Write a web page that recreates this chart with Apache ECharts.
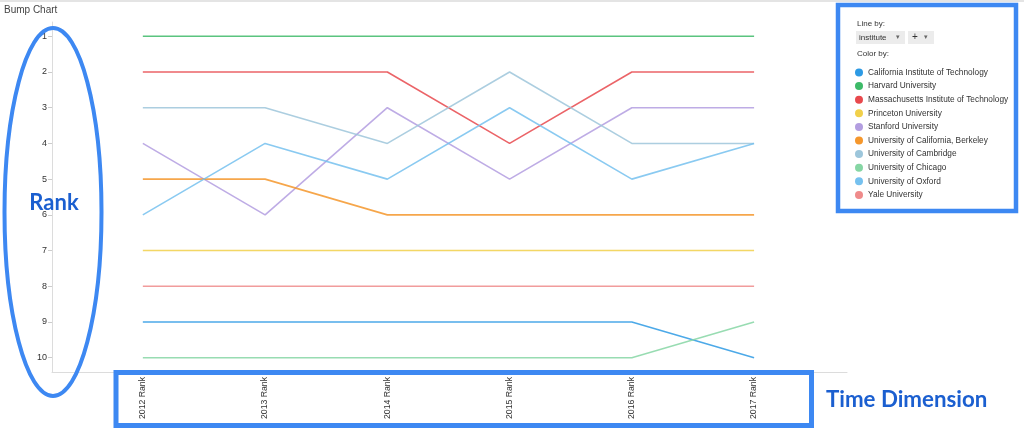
<!DOCTYPE html>
<html>
<head>
<meta charset="utf-8">
<script src="https://cdn.jsdelivr.net/npm/echarts@6/dist/echarts.min.js"></script>
<style>
  html, body { margin: 0; padding: 0; background: #fff; }
  #chart { width: 1024px; height: 433px; }
</style>
</head>
<body>
<div id="chart"></div>
<script>
// years on the x axis
const categories = ['2012 Rank', '2013 Rank', '2014 Rank', '2015 Rank', '2016 Rank', '2017 Rank'];
const rankTicks = [1, 2, 3, 4, 5, 6, 7, 8, 9, 10];

const institutes = [
  'California Institute of Technology',
  'Harvard University',
  'Massachusetts Institute of Technology',
  'Princeton University',
  'Stanford University',
  'University of California, Berkeley',
  'University of Cambridge',
  'University of Chicago',
  'University of Oxford',
  'Yale University'
];

// rank per year, same order as categories
const caltech   = [9, 9, 9, 9, 9, 10];
const harvard   = [1, 1, 1, 1, 1, 1];
const mit       = [2, 2, 2, 4, 2, 2];
const princeton = [7, 7, 7, 7, 7, 7];
const stanford  = [4, 6, 3, 5, 3, 3];
const berkeley  = [5, 5, 6, 6, 6, 6];
const cambridge = [3, 3, 4, 2, 4, 4];
const chicago   = [10, 10, 10, 10, 10, 9];
const oxford    = [6, 4, 5, 3, 5, 4];
const yale      = [8, 8, 8, 8, 8, 8];

const ranks = [caltech, harvard, mit, princeton, stanford, berkeley, cambridge, chicago, oxford, yale];
const colors = ['#2d9ae4', '#3dba68', '#e8494d', '#f1d04a', '#b39ee0', '#f5972c', '#9dc6db', '#86d6a4', '#76c1ef', '#ef8b8b'];

const chart = echarts.init(document.getElementById('chart'));

const blue = '#3d88f2';
const blueText = '#1b5fd0';

const option = {
  animation: false,
  color: colors,
  grid: { left: 52, right: 177, top: 22, bottom: 61 },
  xAxis: {
    type: 'value',
    min: -0.743,
    max: 5.76,
    splitLine: { show: false },
    axisLine: { onZero: false, lineStyle: { color: '#dcdcdc' } },
    axisTick: { customValues: [0, 1, 2, 3, 4, 5], length: 3, lineStyle: { color: '#ccc' } },
    axisLabel: {
      customValues: [0, 1, 2, 3, 4, 5],
      rotate: 90,
      fontSize: 8.7,
      color: '#333',
      fontFamily: 'Liberation Sans',
      margin: 5,
      formatter: v => categories[Math.round(v)]
    }
  },
  yAxis: {
    type: 'value',
    inverse: true,
    min: 0.6,
    max: 10.4,
    splitLine: { show: false },
    axisLine: { show: true, onZero: false, lineStyle: { color: '#dcdcdc' } },
    axisTick: { show: true, customValues: rankTicks, length: 4, lineStyle: { color: '#ccc' } },
    axisLabel: { customValues: rankTicks, fontSize: 9, color: '#333', fontFamily: 'Liberation Sans', margin: 5 }
  },
  legend: {
    orient: 'vertical',
    left: 850,
    top: 62.5,
    icon: 'circle',
    itemWidth: 8,
    itemHeight: 8,
    itemGap: 3.6,
    z: 10,
    textStyle: { fontSize: 8.3, color: '#333', fontFamily: 'Liberation Sans', lineHeight: 10 },
    data: institutes
  },
  series: institutes.map((name, i) => ({
    name,
    type: 'line',
    data: ranks[i].map((r, j) => [j, r]),
    symbol: 'none',
    lineStyle: { width: 1.6, opacity: 0.85 }
  })),
  graphic: [
    { type: 'rect', shape: { x: 0, y: 0, width: 1024, height: 2 }, style: { fill: '#e4e4e4' }, silent: true },
    { type: 'text', left: 4, top: 5, style: { text: 'Bump Chart', fontSize: 10, fill: '#444', fontFamily: 'Liberation Sans' } },

    // legend panel
    { type: 'rect', shape: { x: 838, y: 5, width: 178, height: 206 }, style: { fill: 'none', stroke: blue, lineWidth: 4.5 }, z: 5 },
    { type: 'text', x: 857, y: 20, style: { text: 'Line by:', fontSize: 8, fill: '#333', fontFamily: 'Liberation Sans' } },
    { type: 'rect', shape: { x: 856, y: 31, width: 49, height: 13 }, style: { fill: '#ececec' } },
    { type: 'text', x: 859, y: 33.5, style: { text: 'institute', fontSize: 8, fill: '#333', fontFamily: 'Liberation Sans' } },
    { type: 'text', x: 896, y: 34, style: { text: '▾', fontSize: 7, fill: '#666' } },
    { type: 'rect', shape: { x: 908, y: 31, width: 26, height: 13 }, style: { fill: '#ececec' } },
    { type: 'text', x: 912, y: 32.5, style: { text: '+', fontSize: 10, fill: '#333', fontFamily: 'Liberation Sans' } },
    { type: 'text', x: 924, y: 34, style: { text: '▾', fontSize: 7, fill: '#666' } },
    { type: 'text', x: 857, y: 50, style: { text: 'Color by:', fontSize: 8, fill: '#333', fontFamily: 'Liberation Sans' } },

    // annotations
    { type: 'ellipse', shape: { cx: 53, cy: 212, rx: 48.5, ry: 184 }, style: { fill: 'none', stroke: blue, lineWidth: 4 }, z: 20 },
    { type: 'text', x: 54, y: 203, style: { text: 'Rank', fontSize: 22, fontWeight: 'bold', fill: blueText, fontFamily: 'Lato', align: 'center', verticalAlign: 'middle' }, z: 20 },
    { type: 'rect', shape: { x: 116, y: 372.5, width: 695.5, height: 53 }, style: { fill: 'none', stroke: blue, lineWidth: 5 }, z: 20 },
    { type: 'text', x: 826, y: 400, style: { text: 'Time Dimension', fontSize: 22.3, fontWeight: 'bold', fill: blueText, fontFamily: 'Lato', verticalAlign: 'middle' }, z: 20 }
  ]
};

chart.setOption(option);
</script>
</body>
</html>
